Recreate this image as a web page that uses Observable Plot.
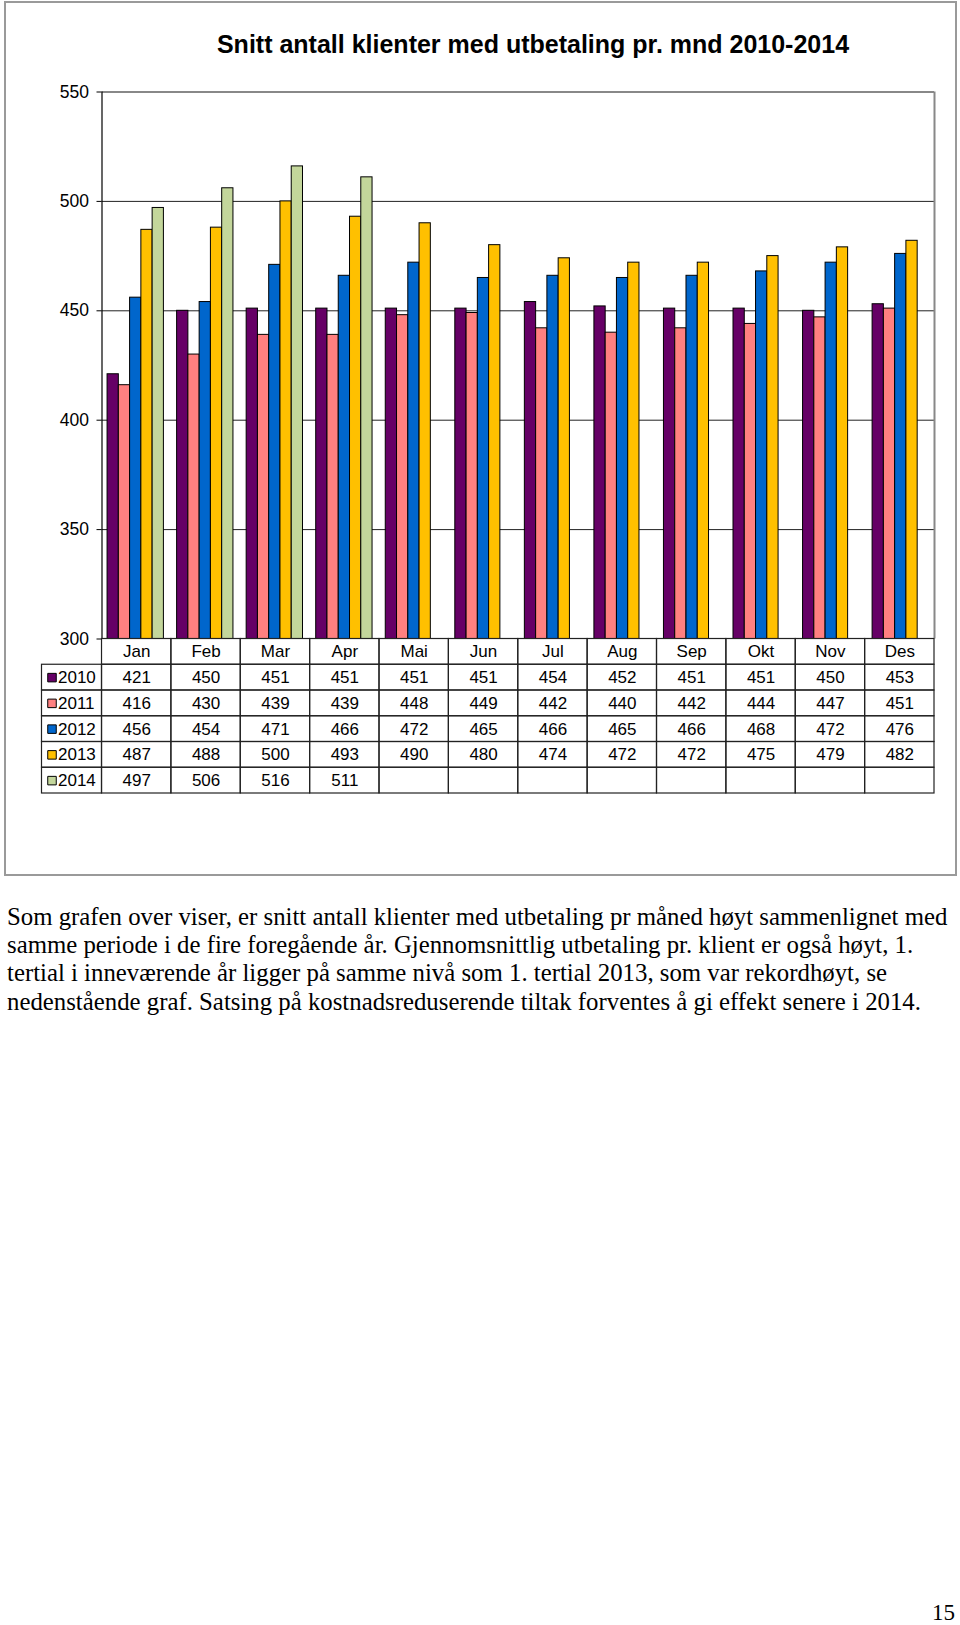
<!DOCTYPE html>
<html>
<head>
<meta charset="utf-8">
<script src="https://cdn.jsdelivr.net/npm/d3@7"></script>
<script src="https://cdn.jsdelivr.net/npm/@observablehq/plot@0.6"></script>
<style>
  html, body { margin: 0; padding: 0; background: #fff; }
  #page { position: relative; width: 960px; height: 1625px; overflow: hidden; }
  #box { position: absolute; left: 4px; top: 1px; width: 953px; height: 875px; box-sizing: border-box; border: 2px solid #9a9a9a; }
  #title { position: absolute; left: 133px; width: 800px; top: 32px; text-align: center; font: bold 25px/25px "Liberation Sans", Arial, sans-serif; color: #000; white-space: nowrap; }
  .layer { position: absolute; left: 0; }
  #caption { position: absolute; left: 7px; top: 903px; font: 24.8px/28.2px "Liberation Serif", "Times New Roman", serif; color: #000; white-space: nowrap; }
  #pagenum { position: absolute; right: 5px; top: 1603px; font: 23px/20px "Liberation Serif", "Times New Roman", serif; color: #000; }
</style>
</head>
<body>
<div id="page">
  <div id="box"></div>
  <div id="title">Snitt antall klienter med utbetaling pr. mnd 2010-2014</div>
  <div id="grid" class="layer" style="top:0"></div>
  <div id="bars" class="layer" style="top:0"></div>
  <div id="table" class="layer" style="top:630px"></div>
  <div id="caption">Som grafen over viser, er snitt antall klienter med utbetaling pr måned høyt sammenlignet med<br>samme periode i de fire foregående år. Gjennomsnittlig utbetaling pr. klient er også høyt, 1.<br>tertial i inneværende år ligger på samme nivå som 1. tertial 2013, som var rekordhøyt, se<br>nedenstående graf. Satsing på kostnadsreduserende tiltak forventes å gi effekt senere i 2014.</div>
  <div id="pagenum">15</div>
</div>
<script>
// ---- Data ----
const months = ["Jan","Feb","Mar","Apr","Mai","Jun","Jul","Aug","Sep","Okt","Nov","Des"];
const years = ["2010","2011","2012","2013","2014"];
const v2010 = [421,450,451,451,451,451,454,452,451,451,450,453];
const v2011 = [416,430,439,439,448,449,442,440,442,444,447,451];
const v2012 = [456,454,471,466,472,465,466,465,466,468,472,476];
const v2013 = [487,488,500,493,490,480,474,472,472,475,479,482];
const v2014 = [497,506,516,511,null,null,null,null,null,null,null,null];
const yTicks = [300,350,400,450,500,550];
const colors = ["#660066","#FF8080","#0066CC","#FFC000","#C3D69B"];

const series = [v2010, v2011, v2012, v2013, v2014];
const rows = [];
years.forEach((y, yi) => months.forEach((m, mi) => {
  const v = series[yi][mi];
  if (v != null) rows.push({month: m, year: y, value: v});
}));

// ---- Layout ----
const W = 960, H = 640;
const mL = 101.5, mR = 26, mT = 91.5, mB = 1.5;
const fontStyle = {background: "transparent", fontFamily: "'Liberation Sans', Arial, sans-serif", fontSize: "17.5px", color: "#000", overflow: "visible"};

// Grid + axis layer
const grid = Plot.plot({
  width: W, height: H,
  marginLeft: mL, marginRight: mR, marginTop: mT, marginBottom: mB,
  style: fontStyle,
  x: {domain: [0, 12], axis: null},
  y: {domain: [300, 550], ticks: yTicks, tickSize: 5, tickPadding: 8, label: null, line: false},
  marks: [
    Plot.ruleY(yTicks.filter(t => t > 300 && t < 550), {stroke: "#222", strokeWidth: 1}),
    Plot.ruleY([550], {stroke: "#888", strokeWidth: 2}),
    Plot.ruleX([12], {stroke: "#888", strokeWidth: 2}),
    Plot.ruleX([0], {stroke: "#000", strokeWidth: 1.2})
  ]
});
document.getElementById("grid").appendChild(grid);

// Bars layer (grouped via fx facets)
const bars = Plot.plot({
  width: W, height: H,
  marginLeft: mL, marginRight: mR, marginTop: mT, marginBottom: mB,
  style: fontStyle,
  fx: {domain: months, paddingInner: 0.19, paddingOuter: 0.08, round: false, axis: null, label: null},
  x: {domain: years, padding: 0, round: false, axis: null},
  y: {domain: [300, 550], axis: null},
  color: {domain: years, range: colors},
  facet: {data: rows, x: "month"},
  marks: [
    Plot.barY(rows, {x: "year", y1: 300, y2: "value", fill: "year", stroke: "#000", strokeWidth: 1, insetLeft: 0, insetRight: 0})
  ]
});
document.getElementById("bars").appendChild(bars);

// Data table layer
const colW = 69.36;
const L = 60 / colW; // legend column width in month units
const cells = [];
months.forEach((m, i) => cells.push({x1: i, x2: i + 1, y1: 0, y2: 1, label: m}));
years.forEach((y, r) => {
  cells.push({x1: -L, x2: 0, y1: r + 1, y2: r + 2, label: ""});
  months.forEach((m, i) => {
    const v = series[r][i];
    cells.push({x1: i, x2: i + 1, y1: r + 1, y2: r + 2, label: v == null ? "" : String(v)});
  });
});
const legend = years.map((y, r) => ({year: y, row: r + 1.5}));

const table = Plot.plot({
  width: W, height: 170,
  marginLeft: 41.5, marginRight: mR, marginTop: 8.5, marginBottom: 7,
  style: fontStyle,
  x: {domain: [-L, 12], axis: null},
  y: {domain: [0, 6], reverse: true, axis: null},
  color: {domain: years, range: colors},
  marks: [
    Plot.rect(cells, {x1: "x1", x2: "x2", y1: "y1", y2: "y2", fill: "none", stroke: "#222", strokeWidth: 1.2}),
    Plot.text(cells, {x: d => (d.x1 + d.x2) / 2, y: d => (d.y1 + d.y2) / 2, text: "label", fill: "#000", fontSize: 17}),
    Plot.dot(legend, {x: -L, y: "row", symbol: "square", r: 4.8, fill: "year", stroke: "#000", strokeWidth: 1, dx: 10}),
    Plot.text(legend, {x: -L, y: "row", text: "year", textAnchor: "start", dx: 16, fill: "#000", fontSize: 17})
  ]
});
document.getElementById("table").appendChild(table);
</script>
</body>
</html>
